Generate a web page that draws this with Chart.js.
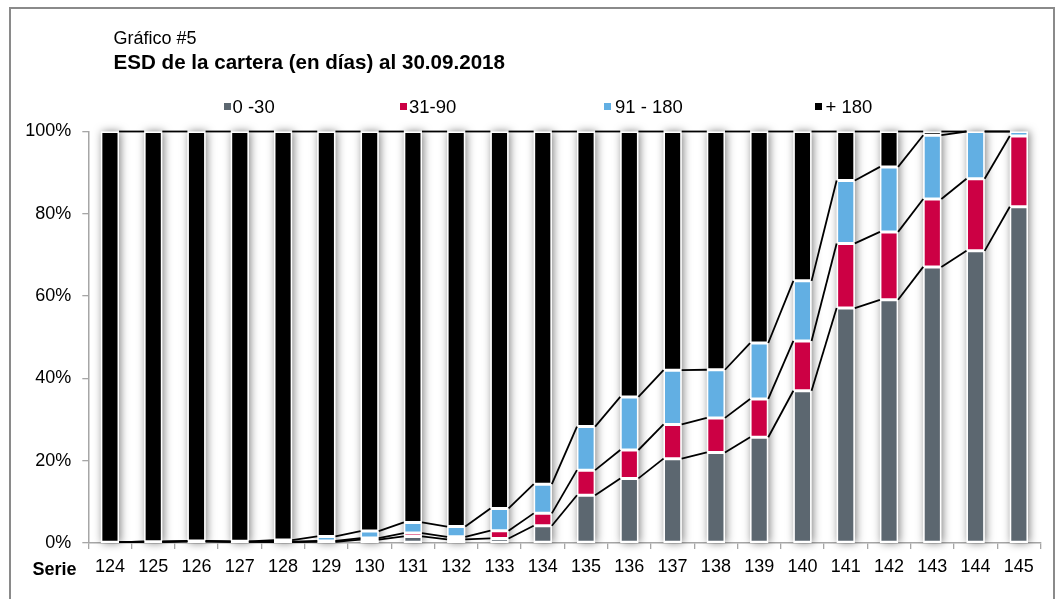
<!DOCTYPE html>
<html>
<head>
<meta charset="utf-8">
<script src="https://cdn.jsdelivr.net/npm/chart.js@4/dist/chart.umd.min.js"></script>
<style>
  html, body { margin: 0; padding: 0; background: #fff; }
  body { width: 1064px; height: 599px; position: relative; overflow: hidden; font-family: "Liberation Sans", Arial, sans-serif; color: #000; }
  #frame { position: absolute; left: 9px; top: 7px; width: 1046px; height: 600px; border: 2px solid #8a8a8a; box-sizing: border-box; }
  #chart-wrap { position: absolute; left: 0; top: 0; width: 1064px; height: 599px; }
  .txt { position: absolute; white-space: nowrap; line-height: normal; }
  .sw { position: absolute; width: 7px; height: 7px; }
</style>
</head>
<body>
<div id="frame"></div>
<div id="chart-wrap"><canvas id="chart-esd" width="1064" height="599"></canvas></div>
<div class="txt" style="left:113.5px; top:28px; font-size:18px;">Gráfico #5</div>
<div class="txt" style="left:113.5px; top:49.5px; font-size:20.6px; font-weight:bold;">ESD de la cartera (en días) al 30.09.2018</div>
<div id="legend"></div>
<div class="txt" style="left:32.5px; top:559px; font-size:18px; font-weight:bold;">Serie</div>

<script>
// --- Data ---
const categories = ['124', '125', '126', '127', '128', '129', '130', '131', '132', '133', '134',
                    '135', '136', '137', '138', '139', '140', '141', '142', '143', '144', '145'];
const seriesNames = ['0 -30', '31-90', '91 - 180', '+ 180'];
const seriesColors = ['#5c6770', '#cc0044', '#62afe3', '#000000'];

const d0to30   = [0.2, 0.3, 0.4, 0.3, 0.2, 0.3, 0.8, 1.6, 0.9, 1.1, 4.2, 11.6, 15.7, 20.5, 22.0, 25.7, 37.0, 57.1, 59.1, 67.1, 71.0, 81.7];
const d31to90  = [0.0, 0.0, 0.0, 0.0, 0.1, 0.2, 0.4, 0.8, 0.6, 1.9, 3.0, 6.1, 6.9, 8.3, 8.4, 9.3, 12.1, 15.7, 16.5, 16.5, 17.5, 17.2];
const d91to180 = [0.0, 0.0, 0.1, 0.1, 0.4, 1.1, 1.7, 2.6, 2.5, 5.4, 7.1, 10.6, 12.9, 13.2, 11.7, 13.6, 14.6, 15.3, 15.8, 15.5, 11.5, 1.1];
const dOver180 = [99.8, 99.7, 99.5, 99.6, 99.3, 98.4, 97.1, 95.0, 96.0, 91.6, 85.7, 71.7, 64.5, 58.0, 57.9, 51.4, 36.3, 11.9, 8.6, 0.9, 0.0, 0.0];

const yTicks = [0, 20, 40, 60, 80, 100];

// --- Legend (html) ---
const legendPos = [[224, 232.5], [399.5, 409], [603.5, 615], [815, 825.5]];
const legendEl = document.getElementById('legend');
seriesNames.forEach((name, i) => {
  const sw = document.createElement('div');
  sw.className = 'sw';
  sw.style.left = legendPos[i][0] + 'px';
  sw.style.top = '102.5px';
  sw.style.background = seriesColors[i];
  legendEl.appendChild(sw);
  const t = document.createElement('div');
  t.className = 'txt';
  t.style.left = legendPos[i][1] + 'px';
  t.style.top = '95.5px';
  t.style.fontSize = '18.5px';
  t.textContent = name;
  legendEl.appendChild(t);
});

// --- Bar shadows + series lines ---
const barDecor = {
  id: 'barDecor',
  beforeDatasetsDraw(chart) {
    const ctx = chart.ctx;
    const base = chart.getDatasetMeta(0);
    const top = chart.getDatasetMeta(3);
    const yBase = chart.scales.y.getPixelForValue(0);
    ctx.save();
    ctx.shadowColor = 'rgba(0,0,0,0.5)';
    ctx.shadowBlur = 9;
    ctx.shadowOffsetX = 1.5;
    ctx.fillStyle = '#fff';
    base.data.forEach((el, i) => {
      const t = top.data[i].y;
      ctx.fillRect(el.x - el.width / 2, t, el.width, yBase - t);
    });
    ctx.restore();
  },
  afterDatasetsDraw(chart) {
    const ctx = chart.ctx;
    ctx.save();
    ctx.strokeStyle = '#000';
    ctx.lineWidth = 1.8;
    for (let d = 0; d < 4; d++) {
      const meta = chart.getDatasetMeta(d);
      for (let i = 0; i < meta.data.length - 1; i++) {
        const a = meta.data[i];
        const b = meta.data[i + 1];
        ctx.beginPath();
        ctx.moveTo(a.x + a.width / 2, a.y);
        ctx.lineTo(b.x - b.width / 2, b.y);
        ctx.stroke();
      }
    }
    ctx.restore();
  }
};

// --- Chart ---
const seriesData = [d0to30, d31to90, d91to180, dOver180];
const ctx = document.getElementById('chart-esd').getContext('2d');
new Chart(ctx, {
  type: 'bar',
  data: {
    labels: categories,
    datasets: seriesData.map((vals, i) => ({
      label: seriesNames[i],
      data: vals,
      backgroundColor: seriesColors[i],
      borderColor: '#ffffff',
      borderWidth: 1.5,
      borderSkipped: false,
      barPercentage: 0.42,
      categoryPercentage: 1,
    }))
  },
  options: {
    responsive: false,
    animation: false,
    layout: { padding: { left: 0, top: 131.5, right: 23.5, bottom: 0 } },
    plugins: { legend: { display: false }, tooltip: { enabled: false } },
    scales: {
      x: {
        stacked: true,
        grid: { drawOnChartArea: false, drawTicks: true, tickLength: 6, color: '#a6a6a6', lineWidth: 1.3, offset: true },
        border: { color: '#a6a6a6', width: 1.5 },
        ticks: { color: '#000', font: { size: 18, family: 'Liberation Sans' }, padding: 7, maxRotation: 0, autoSkip: false },
        afterFit: (s) => { s.height = 56; }
      },
      y: {
        stacked: true,
        min: 0,
        max: 100,
        grid: { drawOnChartArea: false, drawTicks: true, tickLength: 6, color: '#a6a6a6', lineWidth: 1.3 },
        border: { color: '#a6a6a6', width: 1.5 },
        ticks: {
          color: '#000',
          font: { size: 18, family: 'Liberation Sans' },
          padding: 11,
          stepSize: 20,
          callback: (v) => yTicks.includes(v) ? v + '%' : ''
        },
        afterFit: (s) => { s.width = 88.3; }
      }
    }
  },
  plugins: [barDecor]
});
</script>
</body>
</html>
